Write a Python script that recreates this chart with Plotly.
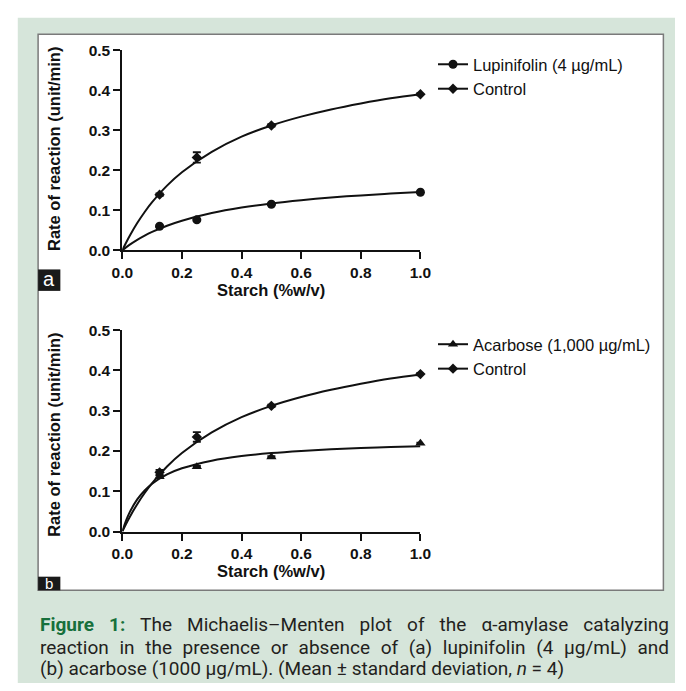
import plotly.graph_objects as go

W, H = 686, 691

# ---- data ----
starch = [0.125, 0.25, 0.5, 1.0]

control_a = [0.139, 0.232, 0.312, 0.390]
control_a_sd = [0.003, 0.013, 0.003, 0.003]
lupinifolin = [0.060, 0.076, 0.115, 0.145]
lupinifolin_sd = [0.002, 0.002, 0.002, 0.002]

control_b = [0.147, 0.235, 0.312, 0.391]
control_b_sd = [0.006, 0.012, 0.003, 0.003]
acarbose = [0.136, 0.161, 0.185, 0.219]
acarbose_sd = [0.003, 0.002, 0.002, 0.002]

# fitted Michaelis-Menten curves
fit_x = [0, 0.0125, 0.025, 0.05, 0.075, 0.1, 0.15, 0.2, 0.3, 0.4, 0.5, 0.6, 0.7, 0.8, 0.9, 1.0]
fit_control = [0, 0.0188, 0.0363, 0.0679, 0.0956, 0.120, 0.1615, 0.195, 0.246, 0.284, 0.312,
               0.334, 0.352, 0.367, 0.380, 0.390]
fit_lupinifolin = [0, 0.0072, 0.0139, 0.0259, 0.0365, 0.0457, 0.0613, 0.0738, 0.0929, 0.1067,
                   0.1171, 0.1252, 0.1318, 0.1371, 0.1416, 0.1455]
fit_acarbose = [0, 0.0269, 0.0481, 0.0797, 0.102, 0.1187, 0.1418, 0.157, 0.176, 0.1873, 0.1948,
                0.2001, 0.2042, 0.2073, 0.2097, 0.2118]

x_ticks = [0.0, 0.2, 0.4, 0.6, 0.8, 1.0]
x_tick_text = ["0.0", "0.2", "0.4", "0.6", "0.8", "1.0"]
y_ticks = [0.0, 0.1, 0.2, 0.3, 0.4, 0.5]
y_tick_text = ["0.0", "0.1", "0.2", "0.3", "0.4", "0.5"]

x_title = "Starch (%w/v)"
y_title = "Rate of reaction (unit/min)"

caption_line1 = ("<b><span style='color:#17703c'>Figure 1:</span></b> "
                 "The Michaelis–Menten plot of the α-amylase catalyzing")
caption_line2 = "reaction in the presence or absence of (a) lupinifolin (4 µg/mL) and"
caption_line3 = "(b) acarbose (1000 µg/mL). (Mean ± standard deviation, <i>n</i> = 4)"


def px(x):
    return x / W


def py(y):
    return 1 - y / H


CHART_FONT = "Liberation Sans, Arial, sans-serif"
CAP_FONT = "Roboto, sans-serif"
CAP_SIZE = 19
BLACK = "#111111"
CAP_COLOR = "#231f20"

fig = go.Figure()


def add_panel(xa, ya, legend, data_sets):
    for name, vals, sd, fit, symbol, msize in data_sets:
        fig.add_trace(go.Scatter(
            x=fit_x, y=fit, mode="lines", line=dict(color=BLACK, width=2, shape="spline"),
            xaxis=xa, yaxis=ya, showlegend=False, hoverinfo="skip", cliponaxis=False))
        fig.add_trace(go.Scatter(
            x=starch, y=vals, mode="markers",
            marker=dict(symbol=symbol, size=msize, color=BLACK),
            error_y=dict(type="data", array=sd, color=BLACK, thickness=1.8, width=4),
            xaxis=xa, yaxis=ya, showlegend=False, cliponaxis=False))
        fig.add_trace(go.Scatter(
            x=[None], y=[None], mode="lines+markers", name=name,
            line=dict(color=BLACK, width=2),
            marker=dict(symbol=symbol, size=msize, color=BLACK),
            xaxis=xa, yaxis=ya, legend=legend))


add_panel("x", "y", "legend", [
    ("Lupinifolin (4 µg/mL)", lupinifolin, lupinifolin_sd, fit_lupinifolin, "circle", 9),
    ("Control", control_a, control_a_sd, fit_control, "diamond", 8),
])
add_panel("x2", "y2", "legend2", [
    ("Acarbose (1,000 µg/mL)", acarbose, acarbose_sd, fit_acarbose, "triangle-up", 9),
    ("Control", control_b, control_b_sd, fit_control, "diamond", 8),
])

axis_common = dict(
    showline=True, linecolor=BLACK, linewidth=2, ticks="outside", ticklen=7, tickwidth=2,
    tickcolor=BLACK, showgrid=False, zeroline=False,
    tickfont=dict(family=CHART_FONT, size=15.5, color=BLACK, weight="bold"),
)

xdom = [px(115), px(423)]
fig.update_layout(
    width=W, height=H,
    margin=dict(l=0, r=0, t=0, b=0),
    paper_bgcolor="white", plot_bgcolor="rgba(0,0,0,0)",
    xaxis=dict(domain=xdom, range=[0, 1], tickvals=x_ticks, ticktext=x_tick_text,
               anchor="y", **axis_common),
    yaxis=dict(domain=[py(247.3), py(42.3)], range=[0, 0.5], tickvals=y_ticks,
               ticktext=y_tick_text, anchor="x", **axis_common),
    xaxis2=dict(domain=xdom, range=[0, 1], tickvals=x_ticks, ticktext=x_tick_text,
                anchor="y2", **axis_common),
    yaxis2=dict(domain=[py(535.7), py(329.3)], range=[0, 0.5], tickvals=y_ticks,
                ticktext=y_tick_text, anchor="x2", **axis_common),
    legend=dict(x=px(436), y=py(39), xanchor="left", yanchor="top",
                bgcolor="rgba(0,0,0,0)", itemwidth=30, tracegroupgap=0,
                font=dict(family=CHART_FONT, size=16.5, color=BLACK)),
    legend2=dict(x=px(436), y=py(326), xanchor="left", yanchor="top",
                 bgcolor="rgba(0,0,0,0)", itemwidth=30, tracegroupgap=0,
                 font=dict(family=CHART_FONT, size=16.5, color=BLACK)),
)

shapes = [
    dict(type="rect", xref="paper", yref="paper", x0=px(7), x1=1, y0=0, y1=py(9),
         fillcolor="#d6e5da", line=dict(width=0), layer="below"),
    dict(type="rect", xref="paper", yref="paper", x0=px(28), x1=px(674), y0=py(596), y1=py(26),
         fillcolor="white", line=dict(color="#7a7a7a", width=1.5), layer="below"),
    dict(type="rect", xref="paper", yref="paper", x0=px(28), x1=px(51), y0=py(289), y1=py(267),
         fillcolor="#1a1a1a", line=dict(width=0), layer="above"),
    dict(type="rect", xref="paper", yref="paper", x0=px(28), x1=px(51), y0=py(596), y1=py(582),
         fillcolor="#1a1a1a", line=dict(width=0), layer="above"),
]
fig.update_layout(shapes=shapes)

ann = []
title_font = dict(family=CHART_FONT, size=16.5, color=BLACK, weight="bold")
for yc in (144, 437):
    ann.append(dict(text=y_title, x=px(45), y=py(yc), xref="paper", yref="paper",
                    textangle=-90, showarrow=False, font=title_font,
                    xanchor="center", yanchor="middle"))
for yc in (288.5, 576.5):
    ann.append(dict(text=x_title, x=px(269), y=py(yc), xref="paper", yref="paper",
                    showarrow=False, font=title_font, xanchor="center", yanchor="middle"))
ann.append(dict(text="a", x=px(39.5), y=py(277), xref="paper", yref="paper", showarrow=False,
                font=dict(family=CHART_FONT, size=20, color="white"),
                xanchor="center", yanchor="middle"))
ann.append(dict(text="b", x=px(39.5), y=py(589), xref="paper", yref="paper", showarrow=False,
                font=dict(family=CHART_FONT, size=15, color="white"),
                xanchor="center", yanchor="middle"))
for line, yc in zip((caption_line1, caption_line2, caption_line3), (631.5, 654.7, 676.6)):
    ann.append(dict(text=line, x=px(28), y=py(yc), xref="paper", yref="paper",
                    showarrow=False, font=dict(family=CAP_FONT, size=CAP_SIZE, color=CAP_COLOR),
                    xanchor="left", yanchor="middle", align="left"))
fig.update_layout(annotations=ann)

# justify the first two caption lines (as in the printed figure) by stretching word spacing
justify_js = """
document.body.style.margin='0';
document.documentElement.style.overflow='hidden';
try {
  var rightEdge = 669;
  document.querySelectorAll('text.annotation-text').forEach(function(el){
    var t = el.textContent;
    if (t.indexOf('Figure 1:') === 0 || t.indexOf('reaction in') === 0) {
      var n = (t.match(/ /g) || []).length;
      if (n === 0) return;
      var ws = 0;
      for (var k = 0; k < 5; k++) {
        var r = el.getBoundingClientRect();
        var diff = rightEdge - r.right;
        if (Math.abs(diff) < 0.3) break;
        ws += diff / n;
        el.style.wordSpacing = ws + 'px';
      }
    }
  });
} catch (e) {}
"""

fig.write_html("out.html", config={"displayModeBar": False}, post_script=justify_js)
